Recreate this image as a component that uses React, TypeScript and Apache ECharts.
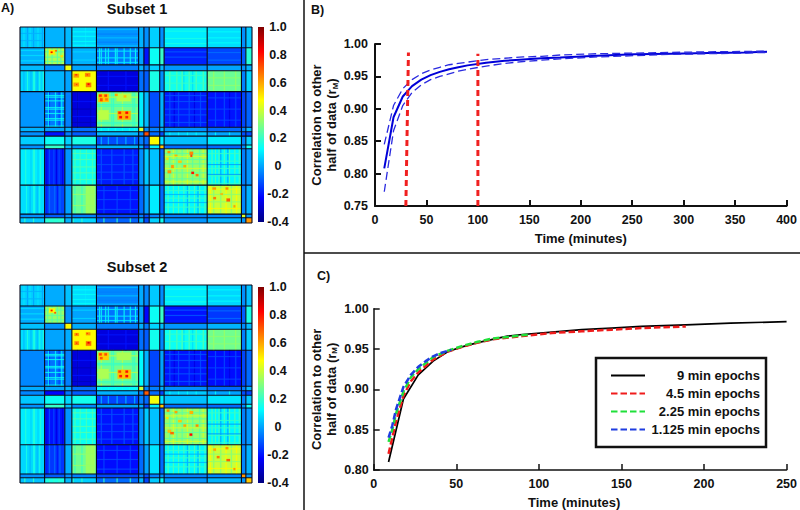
import React, { useEffect, useRef } from "react";
import * as echarts from "echarts";

const FONT = '"Liberation Sans", Arial, sans-serif';
const INK = "#111111";

// Node counts of the thirteen networks (both axes share them).
const blockSizes = [28, 23, 8, 28, 48, 6, 6, 12, 5, 49, 39, 5, 7];

const subset1Blocks = [
  [0.05, 0.02, 0.03, 0.07, -0.02, 0.02, -0.03, 0.06, -0.03, 0.1, 0.08, -0.03, 0.05],
  [0.02, 0.36, -0.03, 0.02, -0.06, 0.0, -0.2, 0.14, 0.2, -0.18, -0.13, -0.1, 0.18],
  [0.03, -0.03, 0.45, 0.0, -0.05, 0.02, -0.05, 0.06, 0.03, -0.02, 0.0, -0.03, 0.02],
  [0.07, 0.02, 0.0, 0.47, -0.27, -0.07, -0.1, 0.16, -0.03, 0.15, 0.27, -0.05, 0.07],
  [-0.02, -0.06, -0.05, -0.27, 0.28, 0.1, 0.03, -0.12, 0.02, -0.19, -0.2, -0.13, -0.09],
  [0.02, 0.0, 0.02, -0.07, 0.1, 0.42, -0.03, -0.05, 0.02, -0.03, -0.08, -0.05, 0.03],
  [-0.03, -0.2, -0.05, -0.1, 0.03, -0.03, 0.72, -0.08, -0.12, 0.05, 0.0, -0.12, -0.12],
  [0.06, 0.14, 0.06, 0.16, -0.12, -0.05, -0.08, 0.48, 0.1, 0.04, 0.1, -0.05, 0.06],
  [-0.03, 0.2, 0.03, -0.03, 0.02, 0.02, -0.12, 0.1, 0.55, -0.08, -0.08, -0.03, 0.15],
  [0.1, -0.18, -0.02, 0.15, -0.19, -0.03, 0.05, 0.04, -0.08, 0.33, 0.12, -0.05, -0.02],
  [0.08, -0.13, 0.0, 0.27, -0.2, -0.08, 0.0, 0.1, -0.08, 0.12, 0.4, -0.04, 0.02],
  [-0.03, -0.1, -0.03, -0.05, -0.13, -0.05, -0.12, -0.05, -0.03, -0.05, -0.04, 0.42, -0.02],
  [0.05, 0.18, 0.02, 0.07, -0.09, 0.03, -0.12, 0.06, 0.15, -0.02, 0.02, -0.02, 0.62],
];

const subset2Blocks = [
  [0.06, 0.01, 0.04, 0.08, -0.04, 0.01, -0.04, 0.05, -0.03, 0.1, 0.07, -0.03, 0.04],
  [0.01, 0.33, -0.02, 0.0, -0.07, 0.0, -0.22, 0.14, 0.2, -0.2, -0.15, -0.1, 0.16],
  [0.04, -0.02, 0.48, 0.01, -0.05, 0.02, -0.06, 0.07, 0.04, -0.02, 0.02, -0.03, 0.03],
  [0.08, 0.0, 0.01, 0.48, -0.27, -0.07, -0.1, 0.15, -0.04, 0.14, 0.28, -0.05, 0.06],
  [-0.04, -0.07, -0.05, -0.27, 0.28, 0.12, 0.02, -0.13, 0.0, -0.2, -0.21, -0.13, -0.08],
  [0.01, 0.0, 0.02, -0.07, 0.12, 0.4, -0.04, -0.05, 0.02, -0.03, -0.08, -0.05, 0.03],
  [-0.04, -0.22, -0.06, -0.1, 0.02, -0.04, 0.7, -0.08, -0.13, 0.05, 0.0, -0.12, -0.13],
  [0.05, 0.14, 0.07, 0.15, -0.13, -0.05, -0.08, 0.46, 0.1, 0.04, 0.09, -0.05, 0.05],
  [-0.03, 0.2, 0.04, -0.04, 0.0, 0.02, -0.13, 0.1, 0.55, -0.08, -0.08, -0.03, 0.14],
  [0.1, -0.2, -0.02, 0.14, -0.2, -0.03, 0.05, 0.04, -0.08, 0.33, 0.12, -0.05, -0.02],
  [0.07, -0.15, 0.02, 0.28, -0.21, -0.08, 0.0, 0.09, -0.08, 0.12, 0.4, -0.04, 0.02],
  [-0.03, -0.1, -0.03, -0.05, -0.13, -0.05, -0.12, -0.05, -0.03, -0.05, -0.04, 0.62, -0.02],
  [0.04, 0.16, 0.03, 0.06, -0.08, 0.03, -0.13, 0.05, 0.14, -0.02, 0.02, -0.02, 0.55],
];

// One-node-wide columns: [row from, row to, value, columns].
const columnBands: [number, number, number, number[]][] = [
  [0, 28, 0.09, [4, 11, 20, 60, 74]], [0, 28, 0.0, [8, 15, 25]],
  [59, 87, 0.17, [8, 15, 16, 22, 26]], [59, 87, 0.03, [4, 12, 19]],
  [164, 213, 0.18, [6, 15, 16, 23]], [164, 213, 0.06, [12, 20]],
  [213, 252, 0.16, [7, 15, 16, 22]], [213, 252, 0.03, [11, 19]],
  [28, 51, 0.14, [90, 92, 97, 100, 108, 110, 118, 125, 131]],
  [28, 51, 0.25, [31, 36, 42, 46]],
  [87, 135, 0.1, [32, 40, 47]], [87, 135, -0.14, [33, 44, 65]],
  [164, 213, -0.12, [33, 38, 44]], [164, 213, -0.26, [30, 41, 48]],
  [213, 252, -0.07, [33, 39, 45]], [213, 252, -0.2, [30, 42]],
  [59, 87, -0.2, [100, 120]], [87, 135, -0.32, [65, 80]],
  [87, 135, -0.12, [170, 180, 192, 205, 222, 232, 245]], [87, 135, -0.26, [175, 198, 238]],
  [164, 213, -0.11, [92, 104, 118, 128]], [213, 252, -0.13, [95, 110, 125]],
  [164, 213, 0.24, [218, 222, 226, 232, 238, 244, 249]], [164, 213, 0.0, [228, 236]],
  [213, 252, 0.24, [168, 174, 180, 186, 192, 198, 204, 210]], [213, 252, 0.02, [190, 202]],
  [59, 87, 0.25, [170, 178, 184, 192, 200, 208]], [59, 87, 0.08, [186, 196]],
  [164, 213, 0.22, [62, 68, 75, 82]], [59, 87, 0.34, [220, 232, 245]],
  [213, 252, 0.35, [75, 76, 77, 78, 79, 80, 81, 82, 83, 84]], [213, 252, 0.2, [62, 70]],
  [87, 135, 0.2, [104, 106, 128, 130]], [87, 135, 0.38, [92, 116]],
  [164, 213, 0.25, [170, 178, 184, 196, 204]], [164, 213, 0.42, [174, 190, 208]],
  [213, 252, 0.3, [220, 228, 240]], [213, 252, 0.48, [216, 234, 246]],
  [257, 264, 0.2, [5, 15, 33, 38, 44, 60, 70, 95, 110, 125]], [147, 159, 0.03, [92, 100, 110, 120, 130]],
  [141, 147, 0.12, [170, 180, 190, 200, 222, 238]], [135, 141, 0.15, [92, 100, 108, 116, 124, 130]],
];

// One-node-high rows: [column from, column to, value, rows].
const rowBands: [number, number, number, number[]][] = [
  [0, 28, 0.02, [8, 18]], [59, 87, 0.13, [6, 12, 19, 24]], [164, 213, 0.16, [5, 15, 22]], [213, 252, 0.13, [6, 14, 21]],
  [0, 28, 0.08, [31, 38, 45]], [87, 135, 0.04, [3, 14, 25]], [87, 135, -0.05, [9, 20]],
  [87, 135, 0.1, [32, 41, 47]], [28, 51, 0.14, [92, 94, 99, 108, 110, 116, 123, 125, 133]],
  [28, 51, 0.25, [33, 40, 46]],
  [164, 213, -0.1, [33, 40]], [213, 252, -0.07, [34, 44]], [59, 87, 0.07, [33, 44]],
  [87, 135, -0.2, [66, 78]], [59, 87, -0.2, [100, 120]], [59, 87, -0.32, [110, 128]],
  [164, 213, -0.11, [92, 100, 110, 118, 128]], [213, 252, -0.13, [95, 110, 125]],
  [87, 135, -0.12, [172, 185, 195, 205, 220, 232, 245]],
  [213, 252, 0.2, [170, 180, 190, 200, 210]], [213, 252, -0.01, [185, 198]],
  [164, 213, 0.2, [220, 230, 242]], [164, 213, 0.02, [225, 236]],
  [164, 213, 0.2, [65, 75]], [213, 252, 0.32, [68, 78]], [59, 87, 0.24, [170, 178, 188, 196, 205]],
  [59, 87, 0.33, [225, 240]],
  [87, 135, 0.2, [104, 106, 128, 130]], [87, 135, 0.38, [94, 116]],
  [164, 213, 0.25, [170, 178, 184, 196, 204]], [164, 213, 0.42, [174, 190, 208]],
  [213, 252, 0.32, [225, 235]], [213, 252, 0.48, [218, 244]],
];

// Bright clusters on the diagonal of subset 1: [x0, x1, y0, y1, value].
const diag1 = [
  [61, 67, 63, 68, 0.62], [74, 80, 62, 67, 0.64], [61, 67, 75, 80, 0.62], [75, 81, 75, 81, 0.66], [63, 65, 64, 65, 0.82], [77, 79, 76, 78, 0.84], [76, 77, 64, 65, 0.8], [64, 65, 77, 78, 0.78],
  [89, 101, 90, 101, 0.55], [90, 93, 91, 94, 0.76], [96, 99, 91, 94, 0.74], [91, 94, 96, 100, 0.72], [97, 100, 96, 99, 0.66],
  [111, 126, 113, 125, 0.58], [112, 115, 114, 117, 0.78], [120, 123, 114, 117, 0.82], [113, 116, 120, 123, 0.82], [120, 123, 120, 123, 0.78],
  [110, 126, 90, 100, 0.38], [89, 101, 112, 125, 0.38], [108, 111, 90, 93, 0.6], [118, 121, 92, 95, 0.56],
  [33, 40, 31, 37, 0.5], [35, 37, 33, 35, 0.82], [40, 42, 31, 33, 0.68], [46, 49, 38, 41, 0.52],
  [168, 171, 167, 170, 0.62], [176, 179, 172, 174, 0.58], [193, 197, 168, 172, 0.64], [194, 196, 172, 175, 0.74], [168, 172, 193, 197, 0.62],
  [195, 198, 195, 198, 0.8], [180, 184, 180, 183, 0.55], [186, 189, 186, 189, 0.6], [172, 175, 186, 190, 0.62], [200, 203, 198, 201, 0.66], [166, 169, 176, 179, 0.52],
  [219, 223, 216, 219, 0.62], [234, 237, 216, 219, 0.64], [220, 223, 229, 232, 0.66], [235, 239, 231, 235, 0.7], [228, 231, 224, 226, 0.58], [243, 245, 240, 243, 0.6],
];

// Bright clusters on the diagonal of subset 2.
const diag2 = [
  [62, 67, 64, 68, 0.62], [75, 80, 63, 67, 0.62], [62, 67, 75, 80, 0.64], [75, 81, 75, 81, 0.68], [64, 65, 65, 66, 0.82], [77, 79, 76, 78, 0.86], [76, 77, 64, 65, 0.78], [64, 65, 77, 78, 0.8],
  [89, 101, 90, 100, 0.54], [90, 93, 91, 94, 0.74], [96, 99, 91, 94, 0.72], [91, 94, 96, 99, 0.7],
  [111, 126, 113, 125, 0.56], [112, 115, 114, 117, 0.74], [120, 123, 114, 117, 0.8], [113, 116, 120, 123, 0.78], [120, 123, 120, 123, 0.82],
  [110, 126, 90, 100, 0.36], [89, 101, 112, 125, 0.36],
  [33, 40, 31, 37, 0.48], [35, 37, 33, 35, 0.8], [39, 41, 36, 38, 0.7],
  [167, 170, 166, 169, 0.64], [176, 179, 168, 171, 0.6], [193, 197, 168, 172, 0.58], [168, 172, 193, 197, 0.56], [171, 175, 196, 199, 0.68],
  [193, 196, 198, 201, 0.82], [180, 184, 180, 183, 0.55], [186, 189, 186, 189, 0.6], [200, 203, 186, 189, 0.64], [166, 169, 176, 179, 0.52],
  [220, 223, 218, 221, 0.6], [234, 237, 216, 219, 0.62], [224, 227, 228, 231, 0.66], [235, 239, 232, 235, 0.7], [243, 245, 244, 247, 0.62],
];

const colorbarStops = ["#000080", "#0000ff", "#0080ff", "#00ffff", "#80ff80", "#ffff00", "#ff8000", "#ff0000", "#800000"];
const colorbarRange = [-0.4, 1];

const panelBTimes = [9, 18, 27, 36, 45, 54, 63, 72, 81, 90, 108, 126, 144, 162, 180, 216, 252, 288, 324, 360, 381];
const panelBMean = [0.808, 0.887, 0.919, 0.935, 0.945, 0.952, 0.957, 0.961, 0.964, 0.967, 0.971, 0.974, 0.976, 0.978, 0.979, 0.982, 0.984, 0.985, 0.986, 0.987, 0.988];
const panelBUpper = [0.845, 0.905, 0.931, 0.945, 0.954, 0.96, 0.964, 0.968, 0.97, 0.972, 0.976, 0.978, 0.98, 0.981, 0.983, 0.985, 0.986, 0.987, 0.988, 0.9885, 0.9892];
const panelBLower = [0.772, 0.866, 0.905, 0.925, 0.937, 0.945, 0.95, 0.954, 0.958, 0.961, 0.966, 0.97, 0.973, 0.975, 0.977, 0.98, 0.982, 0.984, 0.985, 0.986, 0.987];
const cutoffA = [[30, 0.75], [32.5, 0.987]];
const cutoffB = [[100, 0.75], [100, 0.985]];

const epochs9 = [[9, 0.81], [18, 0.888], [27, 0.918], [36, 0.935], [45, 0.947], [54, 0.953], [63, 0.958], [72, 0.962], [81, 0.966], [90, 0.968], [108, 0.971], [126, 0.974], [144, 0.976], [162, 0.978], [189, 0.98], [216, 0.982], [250, 0.984]];
const epochs45 = [[9, 0.82], [13.5, 0.86], [18, 0.892], [22.5, 0.91], [27, 0.921], [36, 0.937], [45, 0.947], [54, 0.953], [63, 0.958], [72, 0.962], [90, 0.966], [108, 0.97], [126, 0.972], [144, 0.974], [162, 0.976], [189, 0.978]];
const epochs225 = [[9, 0.835], [11.25, 0.85], [13.5, 0.87], [18, 0.897], [22.5, 0.915], [27, 0.925], [36, 0.94], [45, 0.948], [54, 0.954], [63, 0.959], [72, 0.963], [81, 0.965], [94, 0.968]];
const epochs1125 = [[9, 0.84], [11.25, 0.855], [13.5, 0.875], [18, 0.903], [22.5, 0.918], [27, 0.928], [31.5, 0.935], [36, 0.941], [40.5, 0.945], [47, 0.949]];

const legendNames = ["9 min epochs", "4.5 min epochs", "2.25 min epochs", "1.125 min epochs"];

const edges = blockSizes.reduce((acc: number[], s) => [...acc, acc[acc.length - 1] + s], [0]);
const NODES = edges[edges.length - 1];

function cells(matrix: number[][], detail: number[][]) {
  const out: number[][] = [];
  matrix.forEach((row, i) =>
    row.forEach((v, j) => out.push([edges[j], edges[j + 1], edges[i], edges[i + 1], v]))
  );
  columnBands.forEach(([y0, y1, v, xs]) => xs.forEach((x) => out.push([x, x + 1, y0, y1, v])));
  rowBands.forEach(([x0, x1, v, ys]) => ys.forEach((y) => out.push([x0, x1, y, y + 1, v])));
  return [...out, ...detail];
}

const renderCell = (_: any, api: any) => {
  const a = api.coord([api.value(0), api.value(2)]);
  const b = api.coord([api.value(1), api.value(3)]);
  const fill = api.visual("color");
  return {
    type: "rect",
    shape: { x: a[0], y: a[1], width: b[0] - a[0], height: b[1] - a[1] },
    style: { fill, stroke: fill, lineWidth: 0.2 },
  };
};

const renderEdges = (_: any, api: any) => {
  const e = api.value(0);
  const h0 = api.coord([0, e]);
  const h1 = api.coord([NODES, e]);
  const v0 = api.coord([e, 0]);
  const v1 = api.coord([e, NODES]);
  const style = { stroke: "#06081c", lineWidth: 1.1 };
  return {
    type: "group",
    children: [
      { type: "line", shape: { x1: h0[0], y1: h0[1], x2: h1[0], y2: h1[1] }, style },
      { type: "line", shape: { x1: v0[0], y1: v0[1], x2: v1[0], y2: v1[1] }, style },
    ],
  };
};

const renderBar = (_: any, api: any) => {
  const a = api.coord([0, api.value(1)]);
  const b = api.coord([1, api.value(0)]);
  const n = colorbarStops.length - 1;
  return {
    type: "rect",
    shape: { x: a[0], y: a[1], width: b[0] - a[0], height: b[1] - a[1] },
    style: {
      fill: new echarts.graphic.LinearGradient(0, 1, 0, 0, colorbarStops.map((color, i) => ({ offset: i / n, color }))),
    },
  };
};

const labelStyle = { color: INK, fontFamily: FONT, fontWeight: "bold", fontSize: 12.5 };
const nameStyle = { ...labelStyle, fontSize: 13 };
const hiddenAxis = (extra: object) => ({ type: "value", show: false, ...extra });

const yName = "{b|Correlation to other}\n{b|half of data (r}{s|M}{b|)}";
const yNameStyle = {
  ...nameStyle,
  lineHeight: 15,
  rich: {
    b: { ...nameStyle, lineHeight: 15 },
    s: { ...nameStyle, fontSize: 8, lineHeight: 15, verticalAlign: "bottom", padding: [4, 0, 0, 0] },
  },
};

const titleAt = (text: string, left: number, top: number, fontSize: number, textAlign = "left") => ({
  text,
  left,
  top,
  padding: 0,
  textAlign,
  textStyle: { ...labelStyle, fontSize },
});

function buildOption() {
  const lineAxis = (lw: number) => ({
    axisLine: { show: true, onZero: false, lineStyle: { color: INK, width: lw } },
    axisTick: { show: true, inside: true, length: 6, lineStyle: { color: INK, width: lw } },
    splitLine: { show: false },
  });
  const lineSeries = (name: string, data: number[][], color: string, width: number, dash: any, axis: number, z = 3) => ({
    type: "line",
    name,
    data,
    xAxisIndex: axis,
    yAxisIndex: axis,
    symbol: "none",
    z,
    lineStyle: { color, width, type: dash },
    itemStyle: { color },
  });
  const zip = (ys: number[]) => panelBTimes.map((t, i) => [t, ys[i]]);
  const barAxisLabel = { ...labelStyle, align: "center", margin: 14, formatter: (v: number) => (v === 0 ? "0" : v.toFixed(1)) };

  return {
    animation: false,
    backgroundColor: "#ffffff",
    title: [
      titleAt("A)", 1, 1, 12.5),
      titleAt("B)", 311, 3, 12.5),
      titleAt("C)", 317, 269, 12.5),
      titleAt("Subset 1", 137, 1, 14.5, "center"),
      titleAt("Subset 2", 137, 259, 14.5, "center"),
    ],
    legend: {
      data: legendNames,
      left: 596,
      top: 358,
      orient: "vertical",
      selectedMode: false,
      itemWidth: 34,
      itemHeight: 14,
      itemGap: 5,
      padding: [11, 6, 11, 14],
      borderColor: INK,
      borderWidth: 2.5,
      backgroundColor: "#ffffff",
      itemStyle: { opacity: 0, color: "transparent", borderWidth: 0 },
      formatter: (n: string) => `{t|${n}}`,
      textStyle: { ...nameStyle, rich: { t: { ...nameStyle, width: 110, align: "right" } } },
    },
    visualMap: {
      show: false,
      type: "continuous",
      min: colorbarRange[0],
      max: colorbarRange[1],
      dimension: 4,
      seriesIndex: [0, 1],
      inRange: { color: colorbarStops },
    },
    grid: [
      { left: 20, top: 27, width: 232, height: 196 },
      { left: 258, top: 27, width: 6, height: 195 },
      { left: 20, top: 285, width: 232, height: 198 },
      { left: 258, top: 287, width: 6, height: 196 },
      { left: 375, top: 44, width: 412, height: 162 },
      { left: 373.7, top: 308.7, width: 416.3, height: 162.3 },
    ],
    xAxis: [
      hiddenAxis({ gridIndex: 0, min: 0, max: NODES }),
      hiddenAxis({ gridIndex: 1, min: 0, max: 1 }),
      hiddenAxis({ gridIndex: 2, min: 0, max: NODES }),
      hiddenAxis({ gridIndex: 3, min: 0, max: 1 }),
      {
        type: "value", gridIndex: 4, min: 0, max: 400, interval: 50, ...lineAxis(2),
        axisLabel: { ...labelStyle, margin: 7 },
        name: "Time (minutes)", nameLocation: "middle", nameGap: 26, nameTextStyle: nameStyle,
      },
      {
        type: "value", gridIndex: 5, min: 0, max: 250, interval: 50, ...lineAxis(1.5),
        axisLabel: { ...labelStyle, margin: 7 },
        name: "Time (minutes)", nameLocation: "middle", nameGap: 26, nameTextStyle: { ...nameStyle, padding: [0, 12, 0, 0] },
      },
    ],
    yAxis: [
      hiddenAxis({ gridIndex: 0, min: 0, max: NODES, inverse: true }),
      {
        type: "value", gridIndex: 1, min: -0.4, max: 1, interval: 0.2, position: "right",
        axisLine: { show: false }, axisTick: { show: false }, splitLine: { show: false },
        axisLabel: barAxisLabel,
      },
      hiddenAxis({ gridIndex: 2, min: 0, max: NODES, inverse: true }),
      {
        type: "value", gridIndex: 3, min: -0.4, max: 1, interval: 0.2, position: "right",
        axisLine: { show: false }, axisTick: { show: false }, splitLine: { show: false },
        axisLabel: barAxisLabel,
      },
      {
        type: "value", gridIndex: 4, min: 0.75, max: 1, interval: 0.05, ...lineAxis(2),
        axisLabel: { ...labelStyle, margin: 7, formatter: (v: number) => v.toFixed(2) },
        name: yName, nameLocation: "middle", nameRotate: 90, nameGap: 36, nameMoveOverlap: false, nameTextStyle: yNameStyle,
      },
      {
        type: "value", gridIndex: 5, min: 0.8, max: 1, interval: 0.05, ...lineAxis(1.5),
        axisLabel: { ...labelStyle, margin: 5, formatter: (v: number) => v.toFixed(2) },
        name: yName, nameLocation: "middle", nameRotate: 90, nameGap: 35, nameMoveOverlap: false, nameTextStyle: yNameStyle,
      },
    ],
    series: [
      { type: "custom", name: "Subset 1", xAxisIndex: 0, yAxisIndex: 0, clip: true, renderItem: renderCell, data: cells(subset1Blocks, diag1), encode: { x: [0, 1], y: [2, 3] }, silent: true },
      { type: "custom", name: "Subset 2", xAxisIndex: 2, yAxisIndex: 2, clip: true, renderItem: renderCell, data: cells(subset2Blocks, diag2), encode: { x: [0, 1], y: [2, 3] }, silent: true },
      { type: "custom", xAxisIndex: 0, yAxisIndex: 0, renderItem: renderEdges, data: edges.map((e) => [e]), z: 4, silent: true },
      { type: "custom", xAxisIndex: 2, yAxisIndex: 2, renderItem: renderEdges, data: edges.map((e) => [e]), z: 4, silent: true },
      { type: "custom", xAxisIndex: 1, yAxisIndex: 1, renderItem: renderBar, data: [colorbarRange], silent: true },
      { type: "custom", xAxisIndex: 3, yAxisIndex: 3, renderItem: renderBar, data: [colorbarRange], silent: true },
      lineSeries("Mean", zip(panelBMean), "#0000d8", 2, "solid", 4, 3),
      lineSeries("Lower", zip(panelBLower), "#2a2ae0", 1.3, [8, 4], 4, 4),
      lineSeries("Upper", zip(panelBUpper), "#2a2ae0", 1.3, [8, 4], 4, 4),
      lineSeries("Cutoff 30", cutoffA, "#f02020", 3, [6, 4], 4, 5),
      lineSeries("Cutoff 100", cutoffB, "#f02020", 3, [6, 4], 4, 5),
      lineSeries(legendNames[0], epochs9, "#000000", 1.7, "solid", 5, 3),
      lineSeries(legendNames[1], epochs45, "#f01c1c", 2.5, [6.5, 3], 5, 4),
      lineSeries(legendNames[2], epochs225, "#1fe03a", 2.5, [6.5, 3], 5, 5),
      lineSeries(legendNames[3], epochs1125, "#1f3de0", 2.5, [6.5, 3], 5, 6),
    ],
    graphic: [
      { type: "line", shape: { x1: 304, y1: 0, x2: 304, y2: 510 }, style: { stroke: INK, lineWidth: 1.5 } },
      { type: "line", shape: { x1: 304, y1: 253, x2: 800, y2: 253 }, style: { stroke: INK, lineWidth: 1.5 } },
    ],
  };
}

export default function App() {
  const ref = useRef<HTMLDivElement>(null);
  useEffect(() => {
    document.body.style.margin = "0";
    const chart = echarts.init(ref.current!, undefined, { renderer: "svg" });
    chart.setOption(buildOption() as any);
    return () => chart.dispose();
  }, []);
  return <div ref={ref} style={{ width: 800, height: 510 }} />;
}
